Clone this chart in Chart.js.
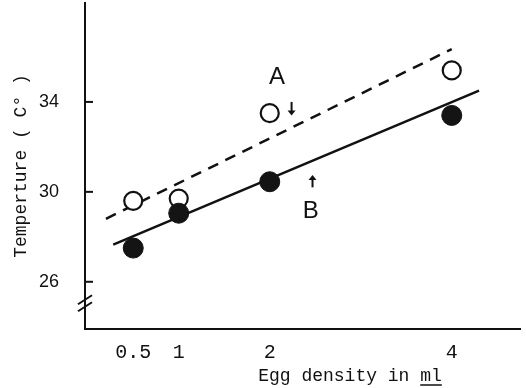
<!DOCTYPE html>
<html>
<head>
<meta charset="utf-8">
<script src="https://cdn.jsdelivr.net/npm/chart.js@4"></script>
<style>
  html, body { margin: 0; padding: 0; background: #fff; }
  #wrap { width: 526px; height: 388px; }
</style>
</head>
<body>
<div id="wrap"><canvas id="chart" width="526" height="388"></canvas></div>
<script>
// egg density (per ml) and temperature readings
const densities = [0.5, 1, 2, 4];
const tempA = [29.6, 29.7, 33.5, 35.4];
const tempB = [27.5, 29.05, 30.45, 33.4];

// fitted lines
const fitAX = [0.2, 4.0];
const fitAY = [28.8, 36.35];
const fitBX = [0.28, 4.3];
const fitBY = [27.65, 34.5];

const xTicks = [0.5, 1, 2, 4];
const yTicks = [26, 30, 34];

const ink = '#111';
const mono = '"Liberation Mono", "DejaVu Sans Mono", monospace';
const sans = '"Liberation Sans", Arial, sans-serif';

const toPts = (xs, ys) => xs.map((x, i) => ({ x, y: ys[i] }));

// text labels and arrows, placed in data units
const notes = [
  { text: 'A', x: 2.08, y: 35.1 },
  { text: 'B', x: 2.45, y: 29.15 },
];
const arrows = [
  { x: 2.24, y1: 34.0, y2: 33.4 },  // pointing down
  { x: 2.47, y1: 30.2, y2: 30.75 }, // pointing up
];

const extras = {
  id: 'extras',
  afterDatasetsDraw(chart) {
    const { ctx, chartArea, scales: { x, y } } = chart;
    ctx.save();
    ctx.fillStyle = ink;
    ctx.strokeStyle = ink;

    // inward ticks on the y axis
    ctx.lineWidth = 2;
    yTicks.forEach((v) => {
      const py = y.getPixelForValue(v);
      ctx.beginPath();
      ctx.moveTo(chartArea.left, py);
      ctx.lineTo(chartArea.left + 8, py);
      ctx.stroke();
    });

    // axis break
    const by = y.getPixelForValue(25.0);
    [-4, 3].forEach((a) => {
      ctx.beginPath();
      ctx.moveTo(chartArea.left - 7, by + a + 4);
      ctx.lineTo(chartArea.left + 7, by + a - 5);
      ctx.stroke();
    });

    // A / B labels
    ctx.font = '24px ' + sans;
    ctx.textAlign = 'center';
    ctx.textBaseline = 'middle';
    notes.forEach((n) => {
      ctx.fillText(n.text, x.getPixelForValue(n.x), y.getPixelForValue(n.y));
    });

    // arrows
    ctx.lineWidth = 2;
    arrows.forEach((a) => {
      const px = x.getPixelForValue(a.x);
      const p1 = y.getPixelForValue(a.y1);
      const p2 = y.getPixelForValue(a.y2);
      const dir = p2 > p1 ? 1 : -1;
      ctx.beginPath();
      ctx.moveTo(px, p1);
      ctx.lineTo(px, p2 - dir * 3);
      ctx.stroke();
      ctx.beginPath();
      ctx.moveTo(px, p2);
      ctx.lineTo(px - 4, p2 - dir * 5);
      ctx.lineTo(px + 4, p2 - dir * 5);
      ctx.closePath();
      ctx.fill();
    });

    // x axis title with underlined unit
    const title = 'Egg density in ';
    const unit = 'ml';
    ctx.font = '18px ' + mono;
    ctx.textAlign = 'left';
    ctx.textBaseline = 'alphabetic';
    const w1 = ctx.measureText(title).width;
    const w2 = ctx.measureText(unit).width;
    const tx = 350 - (w1 + w2) / 2;
    const ty = chartArea.bottom + 52;
    ctx.fillText(title, tx, ty);
    ctx.fillText(unit, tx + w1, ty);
    ctx.lineWidth = 1.5;
    ctx.beginPath();
    ctx.moveTo(tx + w1, ty + 4);
    ctx.lineTo(tx + w1 + w2, ty + 4);
    ctx.stroke();
    ctx.restore();
  }
};

new Chart(document.getElementById('chart'), {
  type: 'scatter',
  data: {
    datasets: [
      {
        label: 'B',
        data: toPts(densities, tempB),
        pointRadius: 10,
        pointBackgroundColor: '#141414',
        pointBorderColor: ink,
        pointBorderWidth: 1,
        order: 0,
      },
      {
        label: 'A',
        data: toPts(densities, tempA),
        pointRadius: 9,
        pointBackgroundColor: '#fff',
        pointBorderColor: ink,
        pointBorderWidth: 2.2,
        order: 1,
      },
      {
        type: 'line',
        label: 'fit A',
        data: toPts(fitAX, fitAY),
        borderColor: ink,
        borderWidth: 2.5,
        borderDash: [11, 8],
        pointRadius: 0,
        order: 2,
      },
      {
        type: 'line',
        label: 'fit B',
        data: toPts(fitBX, fitBY),
        borderColor: ink,
        borderWidth: 2.5,
        pointRadius: 0,
        order: 2,
      },
    ],
  },
  options: {
    responsive: false,
    animation: false,
    events: [],
    layout: { autoPadding: false, padding: { top: 3, right: 6, left: 0, bottom: 0 } },
    plugins: { legend: { display: false }, tooltip: { enabled: false } },
    scales: {
      x: {
        type: 'linear',
        min: -0.03,
        max: 4.75,
        afterFit(s) {
          s.height = 59;
          s.paddingLeft = 0;
          s.paddingRight = 0;
        },
        afterBuildTicks(s) { s.ticks = xTicks.map((v) => ({ value: v })); },
        grid: { display: false, drawTicks: false },
        border: { display: true, color: ink, width: 2 },
        ticks: {
          padding: 12,
          color: ink,
          font: { family: mono, size: 20 },
          maxRotation: 0,
          autoSkip: false,
          callback: (v) => String(v),
        },
      },
      y: {
        type: 'linear',
        min: 23.9,
        max: 38.4,
        afterFit(s) {
          s.width = 85;
          s.paddingTop = 0;
          s.paddingBottom = 0;
        },
        afterBuildTicks(s) { s.ticks = yTicks.map((v) => ({ value: v })); },
        grid: { display: false, drawTicks: false },
        border: { display: true, color: ink, width: 2 },
        ticks: {
          padding: 26,
          color: ink,
          font: { family: sans, size: 18 },
        },
        title: {
          display: true,
          text: 'Temperture ( C° )',
          color: ink,
          font: { family: mono, size: 18 },
          padding: { top: 10, bottom: 0 },
        },
      },
    },
  },
  plugins: [extras],
});
</script>
</body>
</html>
